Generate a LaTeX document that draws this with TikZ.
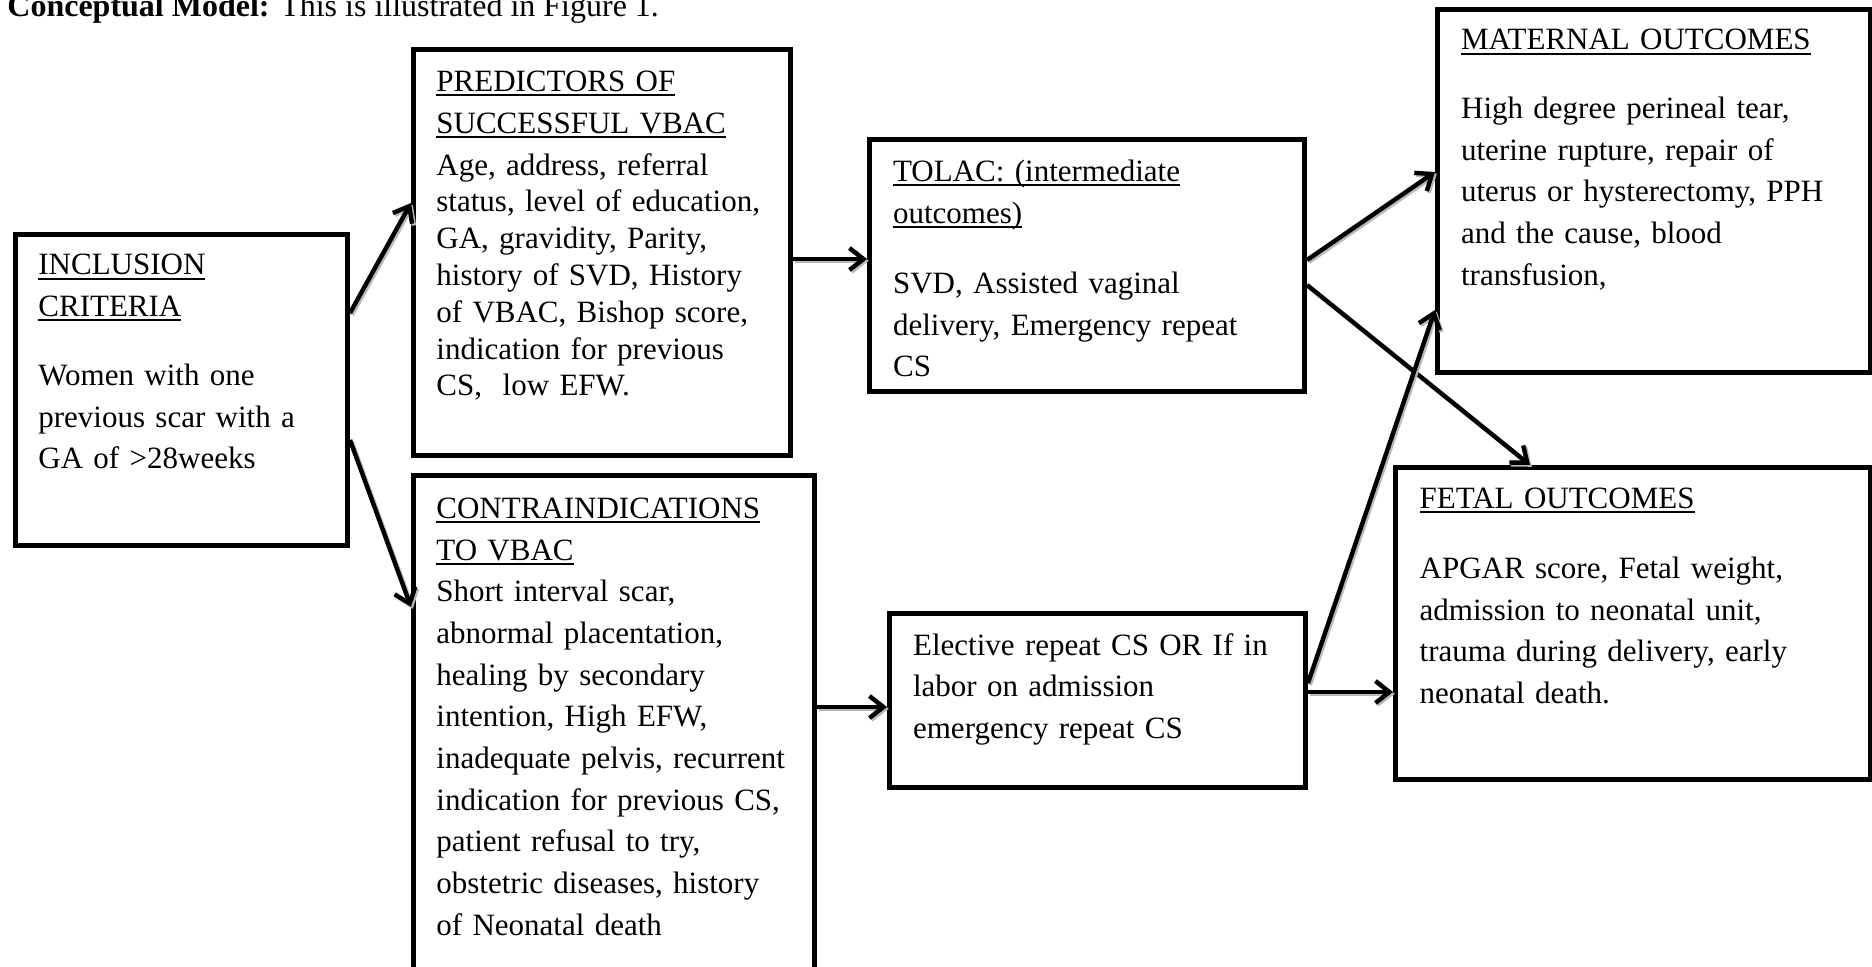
\documentclass[tikz,border=0pt]{standalone}
\usepackage{fontspec}
\setmainfont{Liberation Serif}
\usetikzlibrary{arrows.meta,calc}
\newcommand\hdr[1]{\leavevmode\setbox0=\hbox{#1}\rlap{\rule[-2.3pt]{\wd0}{1pt}}\box0}
\begin{document}
\begin{tikzpicture}[x=0.5pt,y=-0.5pt,
  box/.style={draw=black, line width=2.6pt, inner sep=0pt, anchor=north west},
  txt/.style={anchor=base west, inner sep=0pt, align=left, text width=240pt,
    font=\fontsize{15.5}{20.85}\selectfont},
  arr/.style={line width=2.2pt, -{Straight Barb[length=7pt,width=11pt]},
    preaction={draw=gray!55, line width=2.2pt, transform canvas={shift={(0.9pt,-0.9pt)}}}}]
\useasboundingbox (0,0) rectangle (1872,967);
\clip (0,0) rectangle (1872,967);

% title
\node[anchor=base west, inner sep=0pt, font=\fontsize{16}{19}\selectfont] (title) at (7,17)
  {\textbf{Conceptual Model:} This is illustrated in Figure 1.};

% boxes
\node[box, minimum width=165.9pt, minimum height=155.4pt] (inc) at (13,232) {};
\node[box, minimum width=188.4pt, minimum height=202.9pt] (pred) at (411,47) {};
\node[box, minimum width=200.4pt, minimum height=277.4pt] (contra) at (411,473) {};
\node[box, minimum width=217.4pt, minimum height=125.9pt] (tolac) at (867,137) {};
\node[box, minimum width=207.9pt, minimum height=86.9pt] (elect) at (887,611) {};
\node[box, minimum width=216.4pt, minimum height=181.4pt] (mat) at (1435,7) {};
\node[box, minimum width=237.4pt, minimum height=155.9pt] (fetal) at (1393,465) {};

% texts
\node[txt] (inc-t) at (38,275) {\hdr{INCLUSION}\\\hdr{CRITERIA}\\[13.6pt]Women with one\\previous scar with a\\GA of >28weeks};
\node[txt, font=\fontsize{15.5}{18.4}\selectfont] (pred-t) at (436,91.7) {\hdr{PREDICTORS OF}\\[2.45pt]\hdr{SUCCESSFUL VBAC}\\[2.45pt]Age, address, referral\\status, level of education,\\GA, gravidity, Parity,\\history of SVD, History\\of VBAC, Bishop score,\\indication for previous\\CS,\ \ low EFW.};
\node[txt] (contra-t) at (436,518.3) {\hdr{CONTRAINDICATIONS}\\\hdr{TO VBAC}\\Short interval scar,\\abnormal placentation,\\healing by secondary\\intention, High EFW,\\inadequate pelvis, recurrent\\indication for previous CS,\\patient refusal to try,\\obstetric diseases, history\\of Neonatal death};
\node[txt] (tolac-t) at (892.7,181.7) {\hdr{TOLAC: (intermediate}\\\hdr{outcomes)}\\[14.2pt]SVD, Assisted vaginal\\delivery, Emergency repeat\\CS};
\node[txt] (elect-t) at (912.7,655) {Elective repeat CS OR If in\\labor on admission\\emergency repeat CS};
\node[txt] (mat-t) at (1460.7,50) {\hdr{MATERNAL OUTCOMES}\\[13.35pt]High degree perineal tear,\\uterine rupture, repair of\\uterus or hysterectomy, PPH\\and the cause, blood\\transfusion,};
\node[txt] (fetal-t) at (1419.3,508.3) {\hdr{FETAL OUTCOMES}\\[14.2pt]APGAR score, Fetal weight,\\admission to neonatal unit,\\trauma during delivery, early\\neonatal death.};

% arrows
\draw[arr] ([yshift=-40.5pt]inc.north east) -- ([yshift=-78pt]pred.north west);
\draw[arr] ([yshift=-104pt]inc.north east) -- ([yshift=-67pt]contra.north west);
\draw[arr] ([yshift=-106pt]pred.north east) -- ([yshift=-61pt]tolac.north west);
\draw[arr] ([yshift=-117pt]contra.north east) -- ([yshift=-48pt]elect.north west);
\draw[arr] ([yshift=-61.5pt]tolac.north east) -- ([yshift=-82.5pt]mat.north west);
\draw[arr] ([yshift=-74pt]tolac.north east) -- ([xshift=68.5pt]fetal.north west);
\draw[arr] ([yshift=-36pt]elect.north east) -- ([yshift=-151.5pt]mat.north west);
\draw[arr] ([yshift=-40.5pt]elect.north east) -- ([yshift=-113.5pt]fetal.north west);
\end{tikzpicture}
\end{document}
